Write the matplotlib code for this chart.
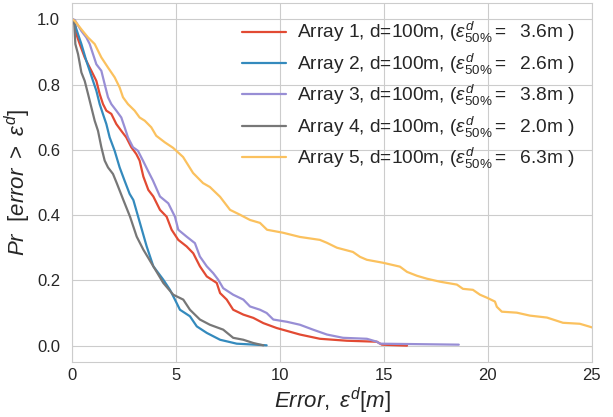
#!/usr/bin/env python3
"""Exceedance probability of distance error for five arrays."""

import matplotlib

matplotlib.use("Agg")
import matplotlib.pyplot as plt
import seaborn as sns

# data (error in m, Pr[error > eps])
a1_x = [0, 0.13, 0.21, 0.37, 0.61, 0.77, 0.93, 1.17, 1.33, 1.49, 1.65, 1.89, 2.13, 2.37, 2.61,
        2.85, 3.09, 3.25, 3.43, 3.67, 3.91, 4.23, 4.55, 4.79, 5.11, 5.51, 5.83, 6.15, 6.48, 6.96,
        7.12, 7.44, 7.75, 8.24, 8.72, 9.2, 9.84, 10.96, 11.92, 13.22, 14.66, 14.90, 16.11]
a1_y = [1.0, 0.995, 0.954, 0.924, 0.883, 0.862, 0.842, 0.811, 0.771, 0.740, 0.720, 0.710, 0.679,
        0.658, 0.638, 0.608, 0.587, 0.567, 0.518, 0.477, 0.457, 0.416, 0.395, 0.355, 0.324, 0.304,
        0.283, 0.243, 0.212, 0.192, 0.161, 0.141, 0.110, 0.095, 0.085, 0.069, 0.054, 0.034, 0.021,
        0.015, 0.012, 0.003, 0.0]

a2_x = [0, 0.13, 0.29, 0.45, 0.69, 0.85, 1.01, 1.17, 1.33, 1.49, 1.65, 1.81, 2.05, 2.29, 2.53,
        2.77, 2.95, 3.27, 3.59, 3.91, 4.39, 4.71, 4.95, 5.19, 5.67, 6.0, 6.48, 7.12, 7.92, 9.36]
a2_y = [1.0, 0.985, 0.954, 0.924, 0.872, 0.842, 0.811, 0.781, 0.740, 0.709, 0.679, 0.638, 0.597,
        0.546, 0.505, 0.465, 0.446, 0.375, 0.304, 0.243, 0.202, 0.171, 0.141, 0.110, 0.090, 0.059,
        0.039, 0.018, 0.006, 0.001]

a3_x = [0, 0.13, 0.45, 0.69, 0.85, 1.01, 1.17, 1.41, 1.57, 1.73, 1.89, 2.13, 2.37, 2.53, 2.69,
        2.93, 3.17, 3.41, 3.65, 3.89, 4.23, 4.63, 4.95, 5.11, 5.51, 5.91, 6.15, 6.48, 6.79, 7.03,
        7.27, 7.75, 8.24, 8.56, 9.04, 9.36, 9.68, 10.34, 10.96, 11.59, 12.26, 13.03, 14.18, 14.66,
        14.81, 18.6]
a3_y = [1.0, 0.998, 0.964, 0.944, 0.924, 0.893, 0.862, 0.842, 0.801, 0.761, 0.740, 0.720, 0.699,
        0.669, 0.638, 0.608, 0.597, 0.567, 0.536, 0.506, 0.457, 0.436, 0.395, 0.355, 0.334, 0.314,
        0.273, 0.243, 0.222, 0.202, 0.176, 0.156, 0.141, 0.120, 0.110, 0.100, 0.080, 0.073, 0.064,
        0.049, 0.034, 0.024, 0.021, 0.012, 0.006, 0.003]

a4_x = [0, 0.10, 0.16, 0.29, 0.45, 0.61, 0.77, 0.93, 1.09, 1.25, 1.41, 1.57, 1.73, 1.97, 2.15,
        2.47, 2.79, 3.11, 3.43, 3.91, 4.39, 4.87, 5.35, 5.67, 6.15, 6.63, 7.27, 7.75, 8.24, 8.72,
        9.2]
a4_y = [1.0, 0.995, 0.924, 0.893, 0.837, 0.811, 0.771, 0.730, 0.689, 0.658, 0.608, 0.567, 0.546,
        0.526, 0.498, 0.446, 0.395, 0.334, 0.294, 0.243, 0.192, 0.156, 0.141, 0.110, 0.080, 0.064,
        0.049, 0.024, 0.018, 0.008, 0.001]

a5_x = [0, 0.13, 0.45, 0.77, 1.09, 1.41, 1.73, 2.05, 2.29, 2.45, 2.69, 3.01, 3.25, 3.5, 3.81,
        4.05, 4.46, 4.86, 5.34, 5.82, 6.30, 6.63, 7.12, 7.60, 8.08, 8.56, 9.04, 9.38, 10.14, 10.96,
        11.92, 12.26, 12.74, 13.51, 13.85, 14.18, 14.95, 15.77, 16.11, 16.59, 17.07, 17.69, 18.51,
        18.80, 19.28, 19.62, 19.95, 20.34, 20.43, 20.67, 21.39, 22.02, 22.84, 23.13, 23.61, 24.42,
        24.90, 25.3]
a5_y = [1.0, 0.995, 0.969, 0.944, 0.924, 0.883, 0.852, 0.822, 0.791, 0.761, 0.740, 0.720, 0.699,
        0.689, 0.669, 0.643, 0.623, 0.606, 0.578, 0.529, 0.498, 0.486, 0.456, 0.416, 0.401, 0.385,
        0.376, 0.355, 0.346, 0.333, 0.324, 0.315, 0.300, 0.287, 0.272, 0.263, 0.254, 0.242, 0.226,
        0.214, 0.205, 0.196, 0.187, 0.174, 0.171, 0.156, 0.147, 0.135, 0.119, 0.104, 0.101, 0.092,
        0.086, 0.080, 0.070, 0.067, 0.058, 0.050]

medians = [3.6, 2.6, 3.8, 2.0, 6.3]
colors = ["#E24A33", "#348ABD", "#988ED5", "#777777", "#FBC15E"]

sns.set_style("whitegrid")
plt.rcParams["font.family"] = ["Liberation Sans", "DejaVu Sans"]
plt.rcParams["mathtext.fontset"] = "custom"
plt.rcParams["mathtext.rm"] = "Liberation Sans"
plt.rcParams["mathtext.it"] = "Liberation Sans:italic"

fig = plt.figure(figsize=(6.13, 4.17), dpi=100)
ax = fig.add_axes([0.1175, 0.132, 0.848, 0.861])

series = [(a1_x, a1_y), (a2_x, a2_y), (a3_x, a3_y), (a4_x, a4_y), (a5_x, a5_y)]
for i, (xs, ys) in enumerate(series):
    label = rf"Array {i + 1}, d=100m, ($\varepsilon^{{d}}_{{50\%}} =$  {medians[i]:.1f}m )"
    ax.plot(xs, ys, color=colors[i], linewidth=1.6, label=label)

ax.set_xlim(0, 25)
ax.set_ylim(-0.05, 1.05)
ax.set_xticks([0, 5, 10, 15, 20, 25])
ax.set_yticks([0.0, 0.2, 0.4, 0.6, 0.8, 1.0])
ax.tick_params(axis="x", labelsize=12, colors=".15", pad=1)
ax.tick_params(axis="y", labelsize=12, colors=".15", pad=5)
ax.set_xlabel(r"$Error,\ \varepsilon^{d}[m]$", fontsize=16, labelpad=2)
ax.set_ylabel(r"$Pr\ \ [error\ >\ \varepsilon^{d}]$", fontsize=16, labelpad=3)
ax.legend(loc="upper right", fontsize=13.8, frameon=False, handlelength=2.3,
          handletextpad=0.55, labelspacing=0.33, borderaxespad=0.5)

fig.savefig("out.png", dpi=100)
